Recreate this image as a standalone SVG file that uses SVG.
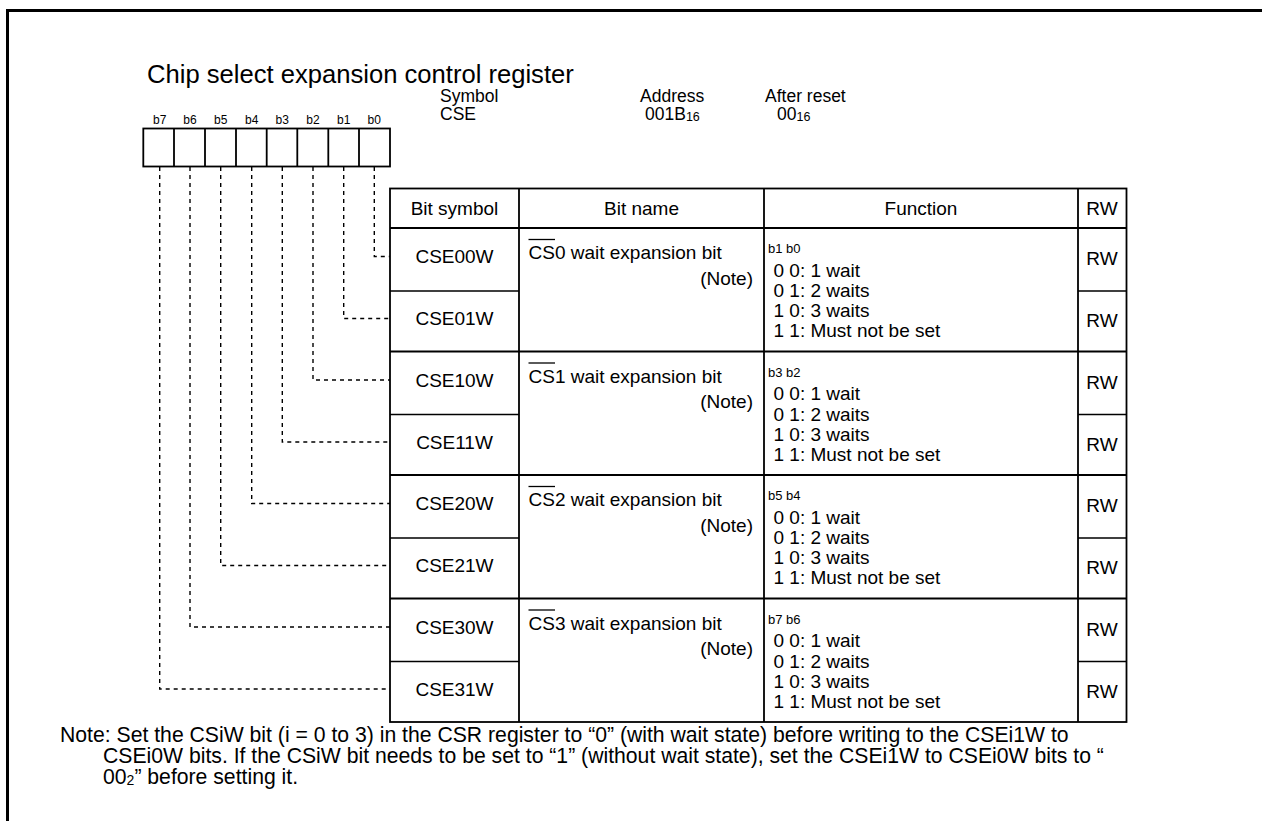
<svg xmlns="http://www.w3.org/2000/svg" width="1262" height="821" viewBox="0 0 1262 821">
<style>
text{font-family:"Liberation Sans",Arial,sans-serif;fill:#000}
.t{font-size:19px}
.i{font-size:17.5px}
.c{text-anchor:middle}
.r{text-anchor:end}
.s{font-size:13px}
.bl{font-size:12px;text-anchor:middle}
.note{font-size:21.2px}
.ln{stroke:#000;stroke-width:1.8;fill:none}
.thin{stroke:#000;stroke-width:1.3;fill:none}
.dash{stroke:#000;stroke-width:1.4;fill:none;stroke-dasharray:4 4}
</style>
<rect width="1262" height="821" fill="#fff"/>
<path d="M7.5,821 V10.5 H1262" stroke="#000" stroke-width="3" fill="none"/>
<text x="147" y="83" style="font-size:25.6px">Chip select expansion control register</text>
<g id="register">
<text class="bl" x="159.7" y="124">b7</text>
<text class="bl" x="190" y="124">b6</text>
<text class="bl" x="220.7" y="124">b5</text>
<text class="bl" x="251.7" y="124">b4</text>
<text class="bl" x="282.3" y="124">b3</text>
<text class="bl" x="313" y="124">b2</text>
<text class="bl" x="343.7" y="124">b1</text>
<text class="bl" x="374.3" y="124">b0</text>
<rect class="ln" x="143.3" y="128.5" width="246.7" height="38"/>
<path class="ln" d="M174,128.5V166.5M205,128.5V166.5M236,128.5V166.5M266.7,128.5V166.5M297.3,128.5V166.5M328.3,128.5V166.5M359,128.5V166.5"/>
</g>
<g id="info">
<text class="i" x="440" y="102">Symbol</text>
<text class="i" x="440" y="120">CSE</text>
<text class="i" x="640" y="102">Address</text>
<text class="i" x="645" y="120">001B<tspan style="font-size:12.5px" dy="1">16</tspan></text>
<text class="i" x="765" y="102">After reset</text>
<text class="i" x="777" y="120">00<tspan style="font-size:12.5px" dy="1">16</tspan></text>
</g>
<g id="connectors">
<path class="dash" d="M374.3,167V256.5H390"/>
<path class="dash" d="M343.7,167V318.5H390"/>
<path class="dash" d="M313,167V380H390"/>
<path class="dash" d="M282.3,167V442H390"/>
<path class="dash" d="M251.7,167V503.5H390"/>
<path class="dash" d="M220.7,167V565.5H390"/>
<path class="dash" d="M190,167V627H390"/>
<path class="dash" d="M159.7,167V689H390"/>
</g>
<g id="table">
<rect class="ln" x="390" y="188.5" width="736.5" height="533.5"/>
<path class="ln" d="M519,188.5V722M764,188.5V722M1078,188.5V722M390,228H1126.5M390,351.5H1126.5M390,475H1126.5M390,598.5H1126.5"/>
<path class="thin" d="M390,291H519M1078,291H1126.5M390,414.5H519M1078,414.5H1126.5M390,538H519M1078,538H1126.5M390,661.5H519M1078,661.5H1126.5"/>
<text class="t c" x="454.5" y="215">Bit symbol</text>
<text class="t c" x="641.5" y="215">Bit name</text>
<text class="t c" x="921" y="215">Function</text>
<text class="t c" x="1102" y="215">RW</text>
</g>
<g id="group0">
<text class="t c" x="454.5" y="263">CSE00W</text>
<text class="t c" x="454.5" y="325">CSE01W</text>
<text class="t" x="528.5" y="259">CS0 wait expansion bit</text>
<path class="thin" d="M528.5,239.5H555"/>
<text class="t r" x="753" y="284.5">(Note)</text>
<text class="s" x="768" y="253">b1 b0</text>
<text class="t" x="773.5" y="276.5">0 0: 1 wait</text>
<text class="t" x="773.5" y="297">0 1: 2 waits</text>
<text class="t" x="773.5" y="317">1 0: 3 waits</text>
<text class="t" x="773.5" y="337">1 1: Must not be set</text>
<text class="t c" x="1102" y="265">RW</text>
<text class="t c" x="1102" y="327">RW</text>
</g>
<g id="group1">
<text class="t c" x="454.5" y="386.5">CSE10W</text>
<text class="t c" x="454.5" y="448.5">CSE11W</text>
<text class="t" x="528.5" y="382.5">CS1 wait expansion bit</text>
<path class="thin" d="M528.5,363H555"/>
<text class="t r" x="753" y="408">(Note)</text>
<text class="s" x="768" y="376.5">b3 b2</text>
<text class="t" x="773.5" y="400">0 0: 1 wait</text>
<text class="t" x="773.5" y="420.5">0 1: 2 waits</text>
<text class="t" x="773.5" y="440.5">1 0: 3 waits</text>
<text class="t" x="773.5" y="460.5">1 1: Must not be set</text>
<text class="t c" x="1102" y="388.5">RW</text>
<text class="t c" x="1102" y="450.5">RW</text>
</g>
<g id="group2">
<text class="t c" x="454.5" y="510">CSE20W</text>
<text class="t c" x="454.5" y="572">CSE21W</text>
<text class="t" x="528.5" y="506">CS2 wait expansion bit</text>
<path class="thin" d="M528.5,486.5H555"/>
<text class="t r" x="753" y="531.5">(Note)</text>
<text class="s" x="768" y="500">b5 b4</text>
<text class="t" x="773.5" y="523.5">0 0: 1 wait</text>
<text class="t" x="773.5" y="544">0 1: 2 waits</text>
<text class="t" x="773.5" y="564">1 0: 3 waits</text>
<text class="t" x="773.5" y="584">1 1: Must not be set</text>
<text class="t c" x="1102" y="512">RW</text>
<text class="t c" x="1102" y="574">RW</text>
</g>
<g id="group3">
<text class="t c" x="454.5" y="633.5">CSE30W</text>
<text class="t c" x="454.5" y="695.5">CSE31W</text>
<text class="t" x="528.5" y="629.5">CS3 wait expansion bit</text>
<path class="thin" d="M528.5,610H555"/>
<text class="t r" x="753" y="655">(Note)</text>
<text class="s" x="768" y="623.5">b7 b6</text>
<text class="t" x="773.5" y="647">0 0: 1 wait</text>
<text class="t" x="773.5" y="667.5">0 1: 2 waits</text>
<text class="t" x="773.5" y="687.5">1 0: 3 waits</text>
<text class="t" x="773.5" y="707.5">1 1: Must not be set</text>
<text class="t c" x="1102" y="635.5">RW</text>
<text class="t c" x="1102" y="697.5">RW</text>
</g>
<g id="note">
<text class="note" x="60" y="742">Note: Set the CSiW bit (i = 0 to 3) in the CSR register to “0” (with wait state) before writing to the CSEi1W to</text>
<text class="note" x="103" y="763">CSEi0W bits. If the CSiW bit needs to be set to “1” (without wait state), set the CSEi1W to CSEi0W bits to “</text>
<text class="note" x="103" y="784">00<tspan style="font-size:14px" dy="1">2</tspan><tspan dy="-1">” before setting it.</tspan></text>
</g>
</svg>
